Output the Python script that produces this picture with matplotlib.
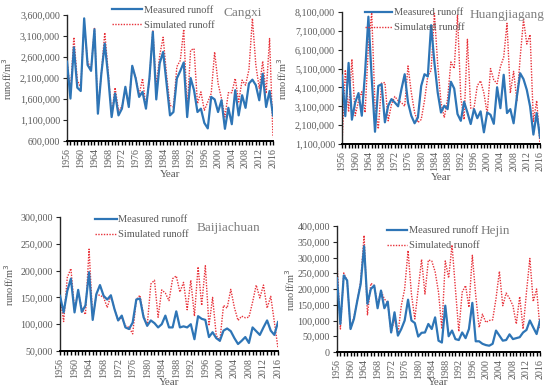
import matplotlib
matplotlib.use('Agg')
import matplotlib.pyplot as plt
from matplotlib.ticker import FuncFormatter, MultipleLocator, FixedLocator

plt.rcParams['font.family'] = ['Liberation Serif', 'DejaVu Serif']

# Data (values in thousand m3)
years = list(range(1956, 2017))

cangxi_measured = [2490, 1610, 2830, 1870, 1790, 3520, 2410, 2270, 3260, 1250,
                   2200, 2920, 2130, 1170, 1730, 1210, 1370, 1890, 1410, 2390,
                   2090, 1650, 1770, 1370, 2090, 3200, 1590, 2450, 2720, 1970,
                   1210, 1290, 2090, 2270, 2470, 1170, 2100, 1810, 1290, 1370,
                   1030, 900, 1650, 1590, 1290, 1570, 890, 1390, 1000, 1810,
                   1210, 1690, 1390, 1970, 2060, 1930, 1570, 2200, 1410, 1790,
                   1210]
cangxi_simulated = [2500, 1770, 3070, 2050, 1870, 3400, 2500, 2300, 3280, 1330,
                    2200, 3180, 2250, 1210, 1870, 1330, 1410, 1850, 1450, 2380,
                    2130, 1690, 2090, 1410, 2050, 3240, 1890, 2640, 3070, 2170,
                    1450, 1410, 2370, 2520, 3260, 1330, 2760, 2800, 1490, 1770,
                    1330, 1530, 1730, 2720, 1970, 1610, 1170, 1750, 1750, 2090,
                    1530, 2050, 1930, 2300, 3520, 2410, 1850, 2500, 1730, 3040,
                    690]

huangjiagang_measured = [4730, 2580, 5400, 2390, 3300, 3800, 2600, 4900, 7850, 4600,
                         1750, 4180, 4270, 2250, 3130, 3480, 3300, 3100, 4000, 4800,
                         3300, 2600, 2200, 2500, 4180, 4800, 4680, 7400, 5420, 3830,
                         2770, 3130, 2950, 4400, 4040, 2690, 2330, 3340, 2770, 2160,
                         2950, 2470, 2830, 1720, 2770, 2650, 2170, 4110, 3000, 4770,
                         2740, 2950, 2200, 3620, 4850, 4540, 3970, 3090, 1600, 2740,
                         1450]
huangjiagang_simulated = [1100, 5030, 2800, 5600, 2600, 3390, 3870, 2770, 6300, 8060,
                          3130, 1900, 4330, 4360, 2330, 3200, 3620, 3400, 3300, 3100,
                          5240, 3830, 2770, 2240, 2400, 3400, 4710, 5000, 8030, 5330,
                          3300, 2500, 3500, 5450, 5100, 7920, 3550, 2400, 6650, 3000,
                          3000, 4200, 4450, 3800, 2700, 5100, 4500, 4300, 5200, 5700,
                          7500, 3800, 4950, 3400, 5700, 7700, 6400, 6900, 2300, 3400,
                          1100]

baijiachuan_measured = [153, 122, 162, 185, 122, 164, 123, 135, 197, 108,
                        156, 173, 153, 146, 154, 128, 107, 116, 94, 91,
                        103, 146, 148, 113, 97, 107, 102, 94, 100, 116,
                        94, 94, 124, 94, 96, 94, 100, 72, 115, 110,
                        108, 76, 85, 74, 69, 88, 92, 87, 74, 63,
                        69, 76, 65, 94, 87, 80, 94, 107, 88, 80,
                        104]
baijiachuan_simulated = [153, 105, 187, 204, 127, 160, 130, 118, 240, 110,
                         155, 154, 150, 131, 154, 128, 107, 113, 97, 94,
                         82, 146, 154, 116, 97, 175, 182, 113, 164, 158,
                         144, 185, 190, 160, 178, 127, 182, 115, 207, 135,
                         209, 97, 150, 79, 69, 135, 130, 165, 131, 107,
                         115, 112, 113, 141, 173, 149, 173, 130, 152, 104,
                         55]

hejin_measured = [234, 89, 243, 227, 73, 105, 163, 216, 336, 153,
                  200, 211, 139, 195, 139, 160, 62, 126, 52, 73,
                  100, 166, 100, 92, 49, 61, 62, 89, 73, 110,
                  36, 30, 147, 50, 68, 41, 38, 62, 44, 73,
                  156, 34, 34, 26, 22, 20, 26, 68, 52, 36,
                  38, 56, 41, 44, 47, 62, 70, 100, 78, 57,
                  100]
hejin_simulated = [285, 73, 251, 225, 73, 110, 163, 225, 370, 118,
                   218, 211, 150, 195, 168, 157, 62, 105, 56, 147,
                   200, 322, 184, 105, 200, 294, 184, 292, 289, 255,
                   190, 73, 289, 235, 340, 200, 65, 190, 211, 142,
                   307, 180, 78, 120, 94, 100, 102, 170, 256, 147,
                   187, 170, 147, 89, 176, 73, 190, 297, 160, 200,
                   73]

# y tick values per station (thousand m3)
cangxi_yticks = list(range(600, 3601, 500))
huangjiagang_yticks = list(range(1100, 8101, 1000))
baijiachuan_yticks = list(range(50, 301, 50))
hejin_yticks = list(range(0, 401, 50))

GRAY = '#595959'
BLUE = '#2E75B6'
RED = '#E8323A'
W, H = 550, 391

fig = plt.figure(figsize=(5.5, 3.91), dpi=100)


def px_axes(left, top, right, bottom):
    # axes from pixel box of the reference image
    return fig.add_axes([left / W, 1 - bottom / H, (right - left) / W, (bottom - top) / H])


panels = [
    # name, measured, simulated, yticks, box, legend anchor, handle length, title pos, ylabel x, xlabel y
    ('Cangxi', cangxi_measured, cangxi_simulated, cangxi_yticks,
     (67, 15, 273, 141), (0.218, 1.075), 2.9, (0.854, 1.016), -0.257, -0.23),
    ('Huangjiagang', huangjiagang_measured, huangjiagang_simulated, huangjiagang_yticks,
     (342, 12, 540, 144), (0.116, 1.03), 2.6, (0.833, 0.977), -0.268, -0.22),
    ('Baijiachuan', baijiachuan_measured, baijiachuan_simulated, baijiachuan_yticks,
     (60, 217, 278, 351), (0.16, 1.015), 2.1, (0.775, 0.918), -0.202, -0.2),
    ('Hejin', hejin_measured, hejin_simulated, hejin_yticks,
     (337, 226, 540, 352), (0.246, 1.0), 1.95, (0.778, 0.96), -0.197, -0.206),
]

for name, meas, sim, yticks, box, leg_xy, hlen, title_xy, ylab_x, xlab_y in panels:
    ax = px_axes(*box)
    ax.plot(years, [v * 1000 for v in meas], color=BLUE, lw=1.6, label='Measured runoff', zorder=3)
    ax.plot(years, [v * 1000 for v in sim], color=RED, lw=1.0, ls=(0, (1, 1)),
            label='Simulated runoff', zorder=2)

    ax.set_xlim(1956, 2016)
    ax.set_ylim(yticks[0] * 1000, yticks[-1] * 1000)
    ax.yaxis.set_major_locator(FixedLocator([t * 1000 for t in yticks]))
    ax.yaxis.set_major_formatter(FuncFormatter(lambda v, p: '{:,.0f}'.format(v)))
    ax.xaxis.set_major_locator(MultipleLocator(4))
    ax.xaxis.set_minor_locator(MultipleLocator(1))

    for s in ['top', 'right']:
        ax.spines[s].set_visible(False)
    ax.spines['left'].set_color('#262626')
    ax.spines['left'].set_linewidth(1.0)
    ax.spines['bottom'].set_color('black')
    ax.spines['bottom'].set_linewidth(1.4)

    ax.tick_params(axis='x', which='both', direction='out', length=3, width=1.0,
                   color='black', labelsize=7.2, labelcolor=GRAY, labelrotation=90, pad=2)
    ax.tick_params(axis='y', direction='out', length=3, width=0.8, color='#262626',
                   labelsize=7.2, labelcolor=GRAY, pad=2)

    ax.set_ylabel('runoff/m$^3$', fontsize=7.5, color=GRAY)
    ax.yaxis.set_label_coords(ylab_x, 0.5)
    ax.set_xlabel('Year', fontsize=8, color=GRAY)
    ax.xaxis.set_label_coords(0.5, xlab_y)

    ax.text(title_xy[0], title_xy[1], name, transform=ax.transAxes, ha='center',
            va='center', fontsize=9.5, color='#7F7F7F')
    ax.legend(loc='upper left', bbox_to_anchor=leg_xy, frameon=False, fontsize=7.5,
              labelcolor=GRAY, handlelength=hlen, handletextpad=0.15, borderpad=0,
              borderaxespad=0, labelspacing=0.55)

plt.savefig('out.png', dpi=100)
